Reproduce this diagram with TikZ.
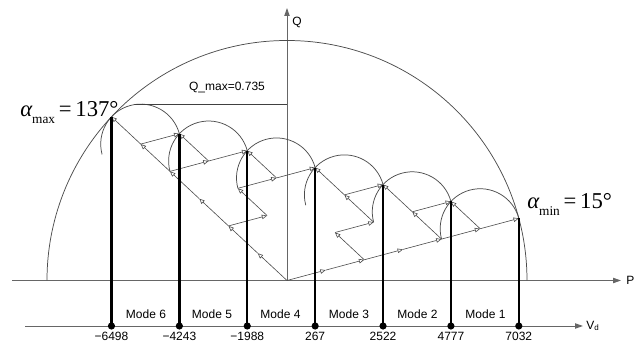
\documentclass[tikz,border=0pt]{standalone}
\usepackage{fontspec}
\setmainfont{Liberation Sans}
\newfontfamily\serifnum{Liberation Serif}
\usetikzlibrary{arrows.meta}
\begin{document}
\begin{tikzpicture}[x=0.75pt,y=0.75pt,
  axis/.style={draw=black!60, line width=0.7pt, -{Triangle[length=6pt,width=4pt]}},
  vec/.style={draw=black!70, line width=0.45pt, -{Triangle[open,length=4pt,width=3.4pt,line width=0.45pt]}},
  arcline/.style={draw=black!70, line width=0.55pt},
  modeline/.style={draw=black, line width=1.8pt},
  dot/.style={circle, fill=black, inner sep=0pt, minimum size=5.4pt},
  lbl/.style={font=\fontsize{9}{10}\selectfont, inner sep=0pt},
  alab/.style={font=\serifnum\fontsize{17}{17}\selectfont, inner sep=0pt, anchor=base west}]

\useasboundingbox (0,0) rectangle (637,342);
\fill[white] (0,0) rectangle (637,342);

\coordinate (O) at (287,61.5);
% lattice points: a bridges at 137 deg, b bridges at 15 deg
\foreach \a in {0,...,6} {
  \pgfmathtruncatemacro\bmax{6-\a}
  \foreach \b in {0,...,\bmax} {
    \pgfmathsetmacro\ra{30*\a}
    \pgfmathsetmacro\rb{30*\b}
    \path (O) ++(137:\ra pt) ++(15:\rb pt) coordinate (L\a\b);
  }
}

% axes
\coordinate (Pl) at (12,61.5);
\coordinate (Pr) at (621,61.5);
\coordinate (Qt) at (287,334);
\coordinate (Vl) at (25,16);
\coordinate (Vr) at (583,16);
\draw[axis] (Pl) -- (Pr);
\draw[axis] (O) -- (Qt);
\draw[axis] (Vl) -- (Vr);
\node[lbl, anchor=west] (Plab) at (626,61.5) {P};
\node[lbl, anchor=west] (Qlab) at (292,320) {Q};
\node[lbl, anchor=west] (Vlab) at (586,16) {V\raisebox{-0.15em}{\fontsize{6}{6}\selectfont d}};

% big circle
\draw[arcline] ([xshift=180pt]O) arc[start angle=0, end angle=180, radius=180pt];

% small arcs
\foreach \s in {06,15,24,33,42,51}
  \draw[arcline] (L\s) arc[start angle=15, end angle=195, radius=30pt];

% Q_max line
\path (L50) ++(0,30pt) coordinate (qm);
\draw[draw=black!75, line width=0.55pt] ([xshift=-4pt]qm) -- (qm -| O);
\node[lbl] (qmlab) at (227,254) {Q\_max=0.735};

% vectors along 137 deg
\foreach \a/\b in {0/0,1/0,2/0,3/0,4/0,5/0,4/1,2/1,3/2,0/2,1/3,2/3,0/4,1/4,0/5} {
  \pgfmathtruncatemacro\n{\a+1}
  \draw[vec] (L\a\b) -- (L\n\b);
}
% vectors along 15 deg
\foreach \a/\b in {0/0,0/1,0/2,0/3,0/4,0/5,5/0,4/0,4/1,3/1,3/2,2/0,2/3,1/2,1/4} {
  \pgfmathtruncatemacro\n{\b+1}
  \draw[vec] (L\a\b) -- (L\a\n);
}

% mode boundary lines, dots and values
\foreach \s/\v in {60/{−6498},51/{−4243},42/{−1988},33/{267},24/{2522},15/{4777},06/{7032}} {
  \draw[modeline] (L\s) -- (L\s |- Vl);
  \node[dot] (d\s) at (L\s |- Vl) {};
  \node[lbl] (n\s) at ([yshift=-7.5pt]d\s) {\v};
}

% mode labels
\node[lbl] (m6) at (146,28) {Mode 6};
\node[lbl] (m5) at (212,28) {Mode 5};
\node[lbl] (m4) at (280.5,28) {Mode 4};
\node[lbl] (m3) at (349,28) {Mode 3};
\node[lbl] (m2) at (417.5,28) {Mode 2};
\node[lbl] (m1) at (485.5,28) {Mode 1};

% angle labels
\node[alab] (amax) at (20,225) {{\itshape α}\raisebox{-0.3em}{\fontsize{10}{10}\selectfont max}\,=\,137°};
\node[alab] (amin) at (527,133) {{\itshape α}\raisebox{-0.3em}{\fontsize{10}{10}\selectfont min}\,=\,15°};
\end{tikzpicture}
\end{document}
